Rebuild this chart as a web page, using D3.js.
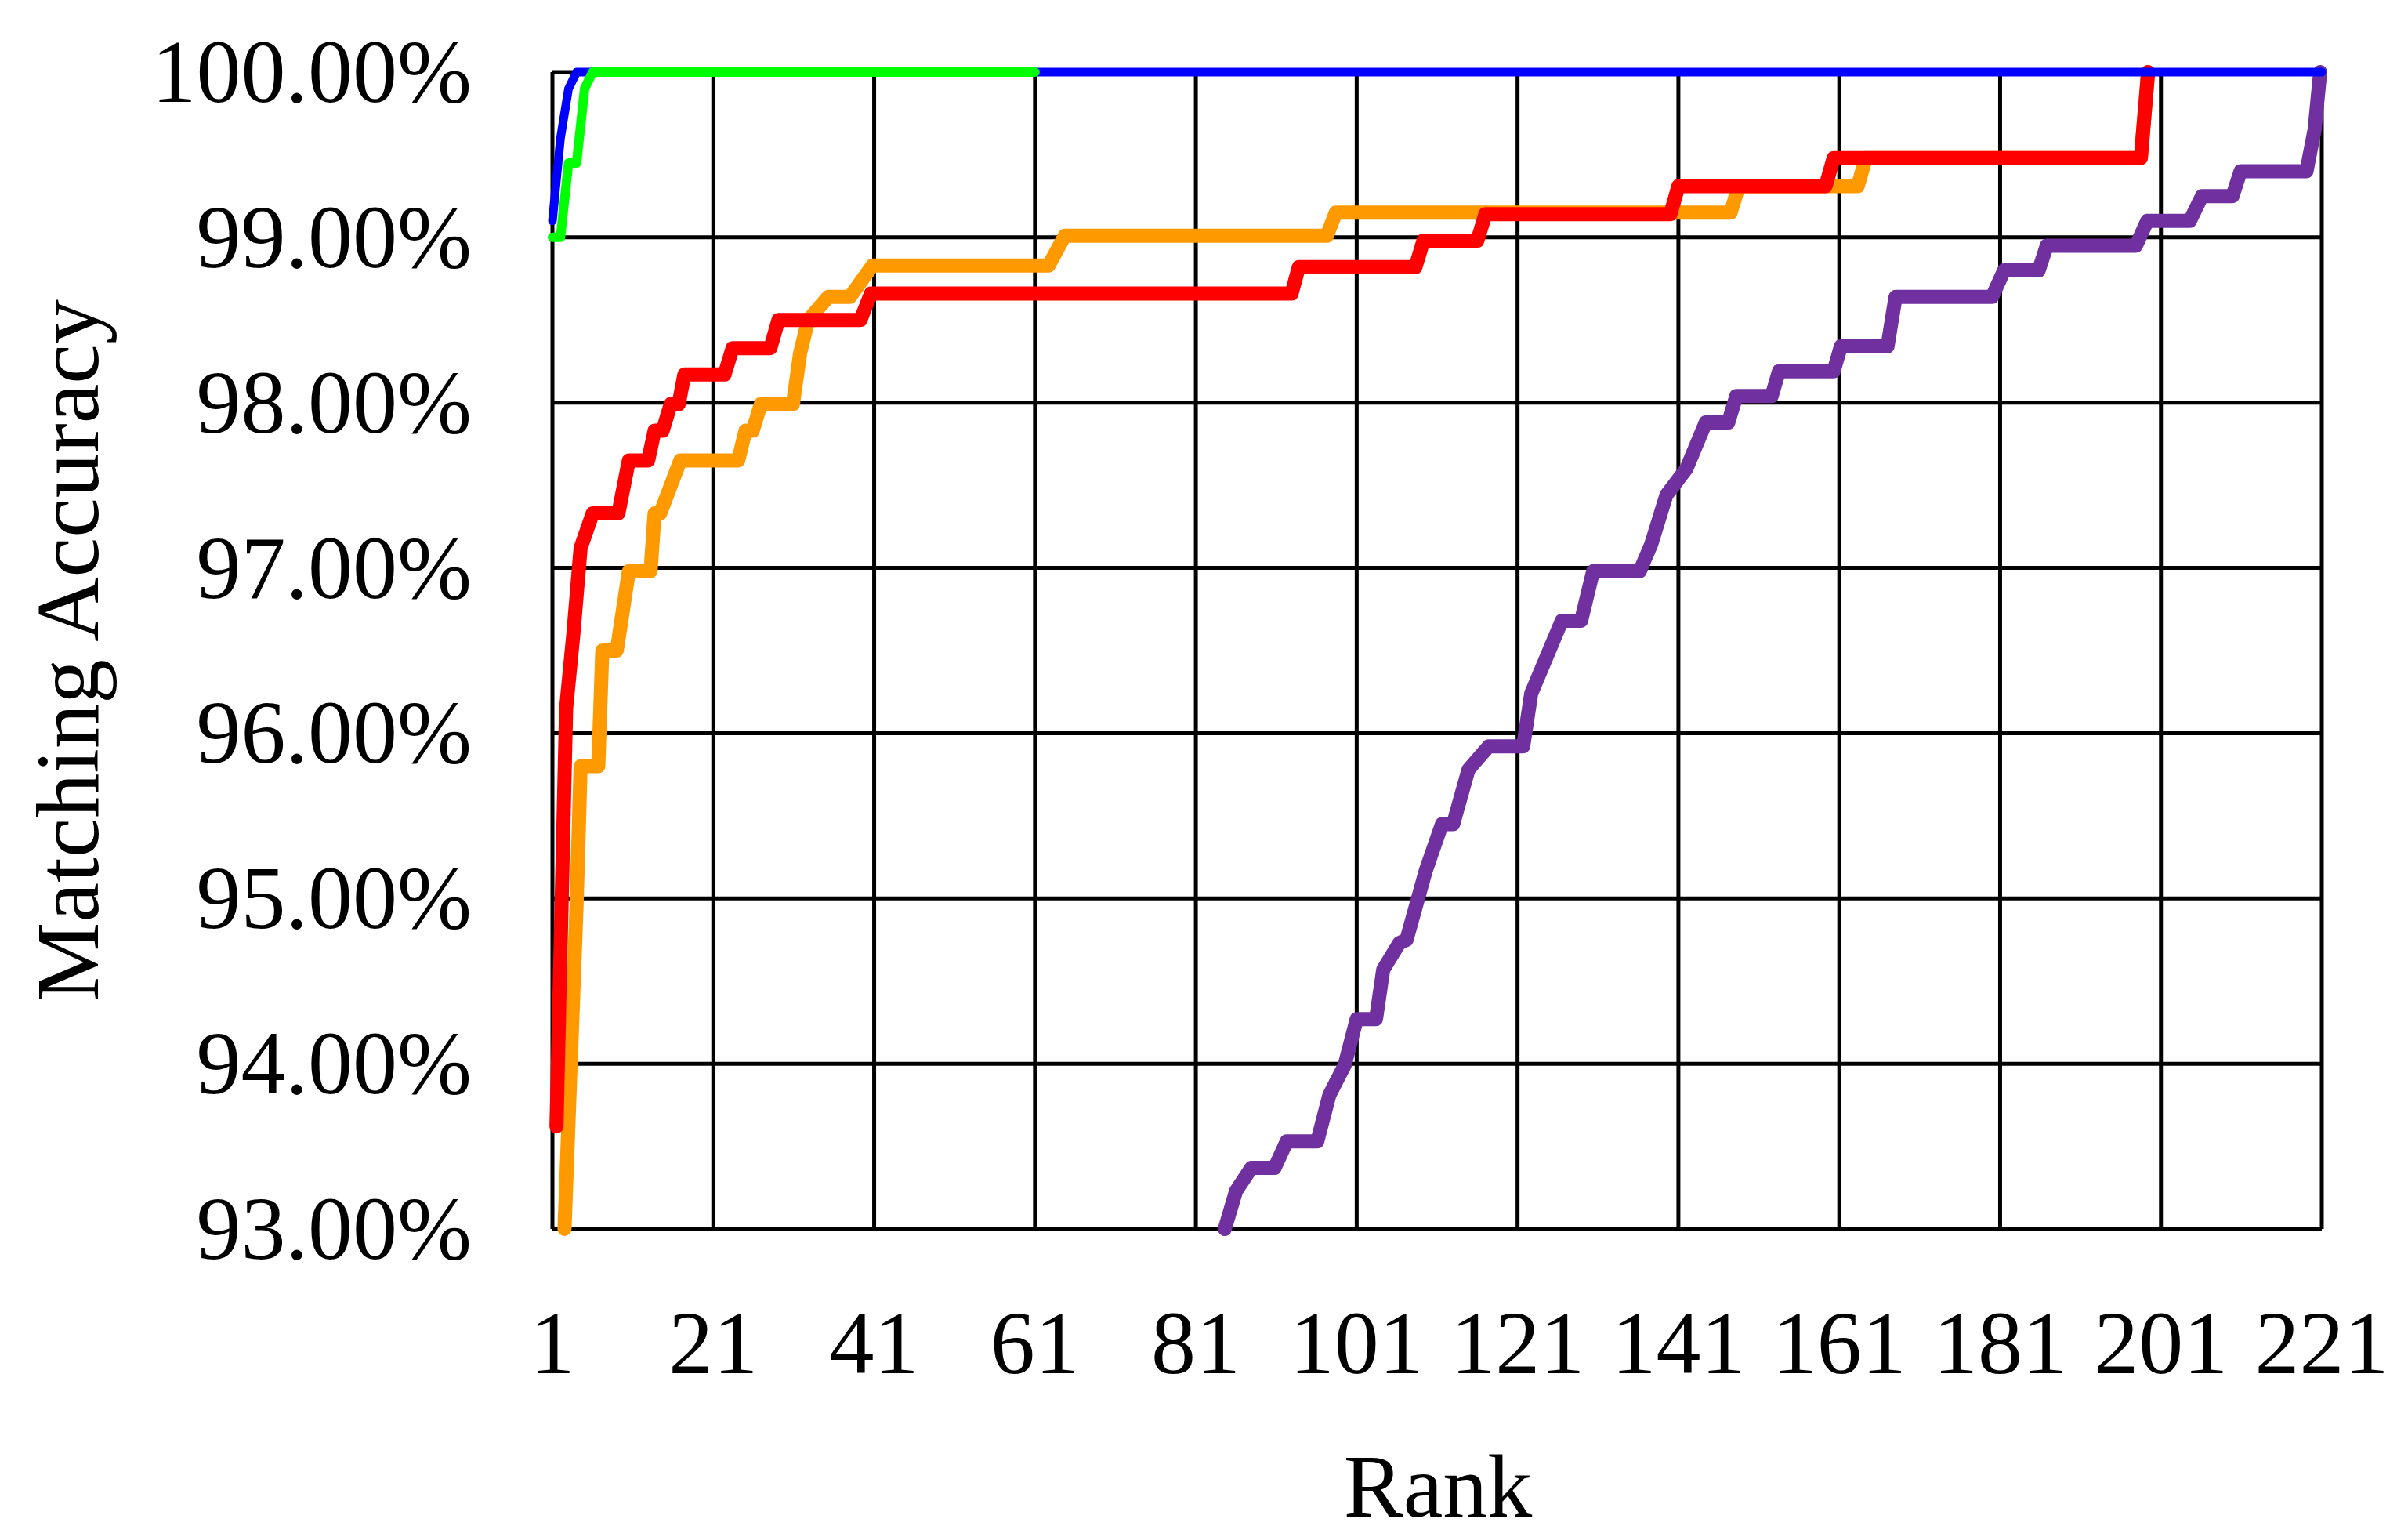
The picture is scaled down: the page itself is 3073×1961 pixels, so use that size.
<!DOCTYPE html>
<html><head><meta charset="utf-8">
<script src="https://cdn.jsdelivr.net/npm/d3@7"></script>
<style>body{margin:0;background:#fff}</style></head>
<body><svg id="c" width="3073" height="1961"></svg>
<script>
const xTicks = [1,21,41,61,81,101,121,141,161,181,201,221];
const yTicks = [93,94,95,96,97,98,99,100];
const blue = [[1,99.1],[2,99.6],[3,99.9],[4,100],[221,100]];
const green = [[1,99.0],[2,99.0],[3,99.45],[4,99.45],[5,99.9],[6,100],[61,100]];
const orange = [[2.5,93.0],[4,94.96],[4.5,95.8],[6.7,95.8],[7.2,96.5],[9,96.5],[10.5,96.98],[13.2,96.98],[13.7,97.33],[14.4,97.33],[16.9,97.65],[24.1,97.65],[25,97.83],[25.9,97.83],[26.9,97.99],[30.9,97.99],[31.8,98.3],[32.8,98.5],[35.3,98.64],[38,98.64],[40.8,98.83],[62.7,98.83],[64.7,99.01],[97.3,99.01],[98.4,99.15],[147.5,99.15],[148.5,99.31],[163.3,99.31],[164.3,99.48],[198.5,99.48],[199.4,100]];
const red = [[1.5,93.62],[2.2,95.1],[2.7,96.15],[3.6,96.6],[4.5,97.12],[6,97.33],[9.2,97.33],[10.5,97.65],[12.9,97.65],[13.7,97.83],[14.7,97.83],[15.7,97.99],[16.7,97.99],[17.4,98.17],[22.4,98.17],[23.4,98.33],[28.1,98.33],[29.1,98.5],[39.3,98.5],[40.6,98.66],[92.9,98.66],[93.8,98.82],[108.3,98.82],[109.3,98.98],[116,98.98],[117,99.14],[140,99.14],[141,99.31],[159.3,99.31],[160.3,99.48],[198.5,99.48],[199.4,100]];
const purple = [[84.6,93.0],[86.0,93.23],[87.9,93.37],[90.8,93.37],[92.3,93.53],[96.1,93.53],[97.6,93.81],[99.5,93.99],[101,94.27],[103.4,94.27],[104.3,94.57],[106.3,94.73],[107.2,94.75],[109.6,95.17],[111.6,95.45],[113,95.45],[114.9,95.78],[117.4,95.92],[121.7,95.92],[122.7,96.24],[126.5,96.68],[128.9,96.68],[130.4,96.98],[136.2,96.98],[137.6,97.14],[139.5,97.44],[142,97.6],[144.4,97.88],[147.2,97.88],[148.2,98.04],[152.6,98.04],[153.5,98.19],[160.3,98.19],[161.2,98.34],[167,98.34],[168,98.64],[180,98.64],[181.5,98.8],[185.8,98.8],[186.8,98.95],[197.9,98.95],[199.3,99.1],[204.6,99.1],[206.1,99.25],[209.9,99.25],[210.9,99.4],[219.1,99.4],[220.1,99.65],[220.8,100]];

const L=705,R=2963,T=92,B=1568;
const svg=d3.select("#c");
const x=d3.scaleLinear().domain([1,221]).range([L,R]);
const y=d3.scaleLinear().domain([93,100]).range([B,T]);
const font="'Liberation Serif','Times New Roman',serif";
const g=svg.append("g");
g.selectAll(".vg").data(xTicks).join("line").attr("x1",d=>x(d)).attr("x2",d=>x(d)).attr("y1",T).attr("y2",B).attr("stroke","#000").attr("stroke-width",5);
g.selectAll(".hg").data(yTicks).join("line").attr("y1",d=>y(d)).attr("y2",d=>y(d)).attr("x1",L).attr("x2",R).attr("stroke","#000").attr("stroke-width",5);
svg.selectAll(".xt").data(xTicks).join("text").attr("x",d=>x(d)).attr("y",1752).attr("text-anchor","middle").attr("font-family",font).attr("font-size",114).text(d=>d);
svg.selectAll(".yt").data(yTicks).join("text").attr("x",602).attr("y",d=>y(d)+38).attr("text-anchor","end").attr("font-family",font).attr("font-size",114).text(d=>d.toFixed(2)+"%");
svg.append("text").attr("x",1835).attr("y",1935).attr("text-anchor","middle").attr("font-family",font).attr("font-size",114).text("Rank");
svg.append("text").attr("transform","translate(125,830) rotate(-90)").attr("text-anchor","middle").attr("font-family",font).attr("font-size",114).text("Matching Accuracy");
const line=d3.line().x(d=>x(d[0])).y(d=>y(d[1]));
const series=[[purple,"#7030a0",18],[orange,"#ff9900",18],[red,"#ff0000",18],[blue,"#0000ff",11],[green,"#00ff00",12]];
series.forEach(([d,c,w])=>svg.append("path").datum(d).attr("d",line).attr("fill","none").attr("stroke",c).attr("stroke-width",w).attr("stroke-linejoin","round").attr("stroke-linecap","round"));
</script></body></html>
